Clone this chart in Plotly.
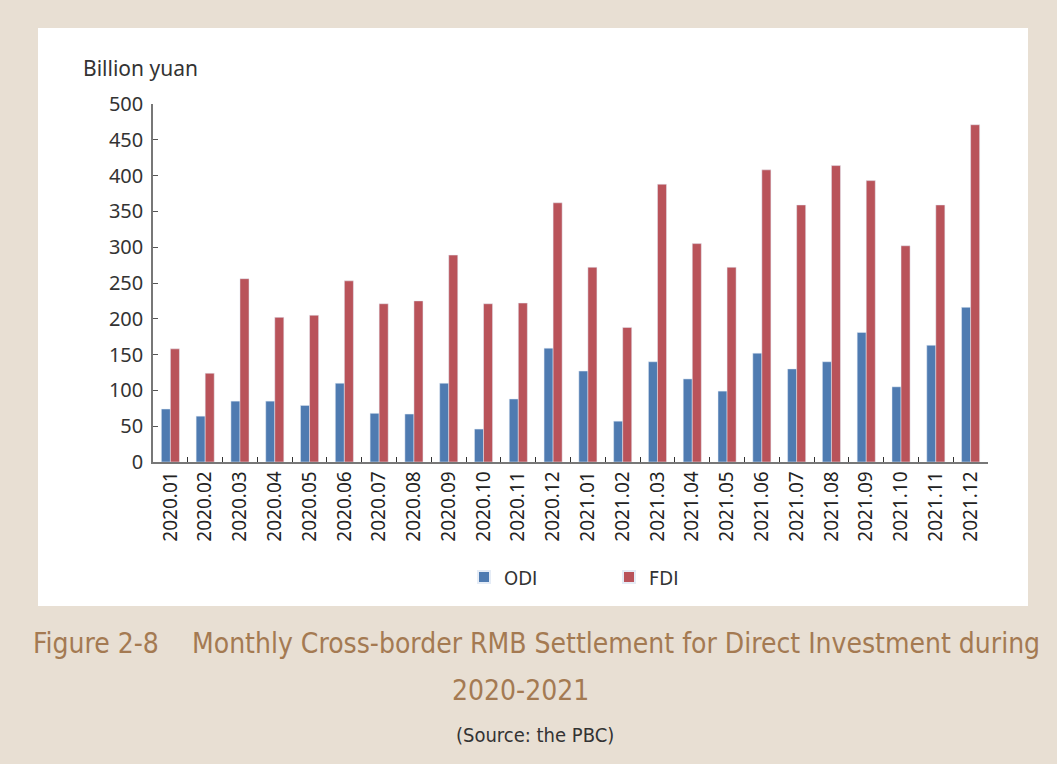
import plotly.graph_objects as go

months = ["2020.01","2020.02","2020.03","2020.04","2020.05","2020.06","2020.07","2020.08",
          "2020.09","2020.10","2020.11","2020.12","2021.01","2021.02","2021.03","2021.04",
          "2021.05","2021.06","2021.07","2021.08","2021.09","2021.10","2021.11","2021.12"]
odi = [74, 64, 85, 85, 79, 110, 68, 67, 110, 46, 88, 159,
       127, 57, 140, 116, 99, 152, 130, 140, 181, 105, 163, 216]
fdi = [158, 124, 256, 202, 205, 253, 221, 225, 289, 221, 222, 362,
       272, 188, 388, 305, 272, 408, 359, 414, 393, 302, 359, 471]

BLUE = "#4f7bb1"
RED = "#b9535a"
BEIGE = "#e8dfd3"
BROWN = "#a47a52"
FONT = "Noto Sans"
CAP = "DejaVu Sans Condensed, Liberation Sans Narrow, Noto Sans"

W, H = 1057, 764
L, R, T, B = 153, 988, 104, 462

def px(x):
    return (x - L) / (R - L)

def py(y):
    return (B - y) / (B - T)

fig = go.Figure()
fig.add_trace(go.Bar(x=months, y=odi, name="ODI", marker_color=BLUE))
fig.add_trace(go.Bar(x=months, y=fdi, name="FDI", marker_color=RED))

fig.update_layout(
    width=W, height=H,
    margin=dict(l=L, r=W - R, t=T, b=H - B),
    paper_bgcolor=BEIGE,
    plot_bgcolor="white",
    barmode="group",
    bargap=0.48,
    bargroupgap=0,
    font=dict(family=FONT, color="#333333", size=18),
    showlegend=True,
    legend=dict(orientation="h", x=px(609), y=py(577), xanchor="center", yanchor="middle",
                font=dict(size=20, color="#333333", family=CAP), bgcolor="rgba(0,0,0,0)",
                entrywidth=100, entrywidthmode="pixels", itemsizing="constant"),
    shapes=[dict(type="rect", xref="paper", yref="paper",
                 x0=px(38), x1=px(1028), y0=py(606), y1=py(28),
                 fillcolor="white", line=dict(width=0), layer="below")],
    annotations=[
        dict(text="Billion yuan", xref="paper", yref="paper", x=px(81), y=py(68),
             xanchor="left", yanchor="middle", showarrow=False,
             font=dict(size=21, color="#333333", family=FONT)),
        dict(text="Figure 2-8\u2003 Monthly Cross-border RMB Settlement for Direct Investment during",
             xref="paper", yref="paper", x=px(536), y=py(643),
             xanchor="center", yanchor="middle", showarrow=False,
             font=dict(size=28, color=BROWN, family=CAP)),
        dict(text="2020-2021", xref="paper", yref="paper", x=px(520), y=py(690),
             xanchor="center", yanchor="middle", showarrow=False,
             font=dict(size=28, color=BROWN, family=CAP)),
        dict(text="(Source: the PBC)", xref="paper", yref="paper", x=px(535), y=py(735),
             xanchor="center", yanchor="middle", showarrow=False,
             font=dict(size=20, color="#333333", family=CAP)),
    ],
)

fig.update_yaxes(range=[0, 500], dtick=50, ticks="inside", ticklen=5, tickcolor="#555555",
                 showline=True, linecolor="#777777", linewidth=1.5, showgrid=False,
                 zeroline=False, tickfont=dict(size=20, color="#333333"), fixedrange=True,
                 ticklabelstandoff=4)
fig.update_xaxes(tickangle=-90, ticks="inside", ticklen=5, tickcolor="#333333",
                 tickson="boundaries", showline=True, linecolor="#777777", linewidth=1.5,
                 showgrid=False, tickfont=dict(size=19, color="#222222"), fixedrange=True)

fig.write_html("out.html", config={"displayModeBar": False},
               post_script="document.body.style.margin='0';document.body.style.background='" + BEIGE + "';")
